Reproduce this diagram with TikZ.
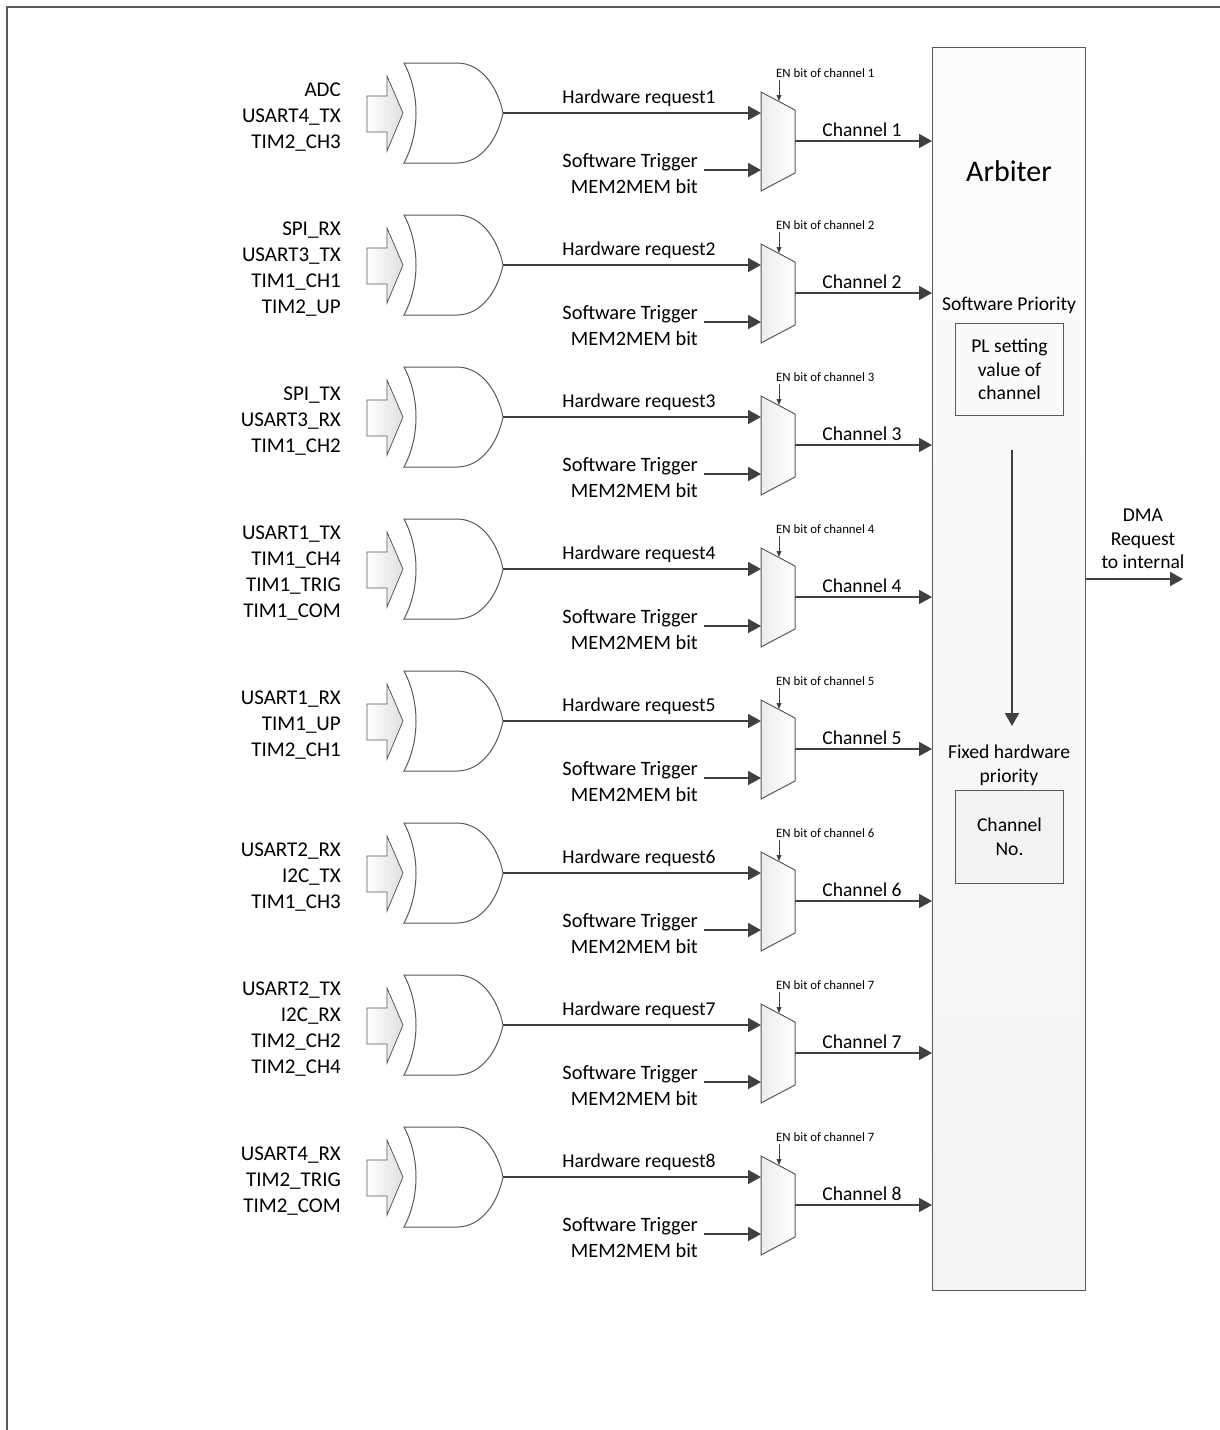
\documentclass[tikz,border=0pt]{standalone}
\usepackage{fontspec}
\setmainfont{Carlito}
\usetikzlibrary{arrows.meta}
\definecolor{linegray}{HTML}{404040}
\definecolor{edgegray}{HTML}{595959}
\tikzset{
  req/.style={draw=linegray, line width=1.8pt, -{Triangle[length=13pt,width=14pt]}},
  enarr/.style={draw=linegray, line width=0.8pt, -{Triangle[length=6pt,width=5pt]}},
  gateline/.style={draw=edgegray, line width=1pt, fill=white},
  lbl/.style={inner sep=0pt, font=\fontsize{19.6}{26}\selectfont},
  srclbl/.style={inner sep=0pt, align=right, font=\fontsize{21}{26}\selectfont},
  enlbl/.style={inner sep=0pt, font=\fontsize{12.8}{14}\selectfont},
}
\begin{document}
\begin{tikzpicture}[x=1pt,y=-1pt]
\useasboundingbox (0,0) rectangle (1220,1430);
\draw[edgegray, line width=2pt] (7,1430) -- (7,7) -- (1220,7);
\node[draw=edgegray, line width=1.2pt, top color=gray!2, bottom color=gray!9, minimum width=153pt, minimum height=1243pt, inner sep=0pt, anchor=north west] (arb) at (932,47) {};
\node[inner sep=0pt, font=\fontsize{30}{36}\selectfont] (arbtitle) at (1009,171) {Arbiter};
\node[lbl] (swprio) at (1009,305) {Software Priority};
\node[draw=edgegray, line width=1pt, fill=gray!4, minimum width=108pt, minimum height=92pt, inner sep=0pt, anchor=north west] (plbox) at (955,323) {};
\node[lbl, align=center, font=\fontsize{19.6}{23.5}\selectfont] (pltext) at (plbox.center) {PL setting\\value of\\channel};
\coordinate (prtop) at (1012,450);
\coordinate (prbot) at (1012,726);
\draw[req] (prtop) -- (prbot);
\node[lbl, align=center, font=\fontsize{19.6}{24}\selectfont] (fixlbl) at (1009,765) {Fixed hardware\\priority};
\node[draw=edgegray, line width=1pt, fill=gray!10, minimum width=108pt, minimum height=93pt, inner sep=0pt, anchor=north west] (chbox) at (955,790) {};
\node[lbl, align=center, font=\fontsize{19.6}{24}\selectfont] (chtext) at (chbox.center) {Channel\\No.};
\coordinate (dmaend) at (1183,579);
\draw[req] (arb.east |- dmaend) -- (dmaend);
\node[lbl, align=center, font=\fontsize{19.6}{23.5}\selectfont] (dmalbl) at (1143,539) {DMA\\Request\\to internal};
\foreach \k/\srcs/\en in {
  0/{ADC\\USART4\_TX\\TIM2\_CH3}/1,
  1/{SPI\_RX\\USART3\_TX\\TIM1\_CH1\\TIM2\_UP}/2,
  2/{SPI\_TX\\USART3\_RX\\TIM1\_CH2}/3,
  3/{USART1\_TX\\TIM1\_CH4\\TIM1\_TRIG\\TIM1\_COM}/4,
  4/{USART1\_RX\\TIM1\_UP\\TIM2\_CH1}/5,
  5/{USART2\_RX\\I2C\_TX\\TIM1\_CH3}/6,
  6/{USART2\_TX\\I2C\_RX\\TIM2\_CH2\\TIM2\_CH4}/7,
  7/{USART4\_RX\\TIM2\_TRIG\\TIM2\_COM}/7}{
  \pgfmathsetmacro\y{113+152*\k}
  \pgfmathtruncatemacro\n{\k+1}
  \node[srclbl, anchor=east] (src\n) at (341,\y+4) {\srcs};
  \draw[edgegray, line width=0.8pt, left color=white, right color=gray!25] (367,\y-17) -- (387,\y-17) -- (387,\y-37) -- (403,\y) -- (387,\y+38) -- (387,\y+19) -- (367,\y+19) -- cycle;
  \draw[gateline] (404,\y-50) .. controls (420,\y-20) and (420,\y+20) .. (404,\y+50) -- (457,\y+50) .. controls (482,\y+50) and (498,\y+25) .. (503,\y) .. controls (498,\y-25) and (482,\y-50) .. (457,\y-50) -- cycle;
  \draw[edgegray, line width=1pt, left color=gray!15, right color=white] (761,\y-21) -- (795,\y-3) -- (795,\y+60) -- (761,\y+78) -- cycle;
  \coordinate (or\n) at (503,\y);
  \coordinate (hw\n) at (761,\y);
  \coordinate (sw\n) at (704,\y+57);
  \coordinate (swin\n) at (761,\y+57);
  \coordinate (ch\n) at (795,\y+28);
  \coordinate (en\n) at (779,\y-33);
  \coordinate (enin\n) at (779,\y-12);
  \draw[req] (or\n) -- (hw\n);
  \draw[req] (sw\n) -- (swin\n);
  \draw[req] (ch\n) -- (arb.west |- ch\n);
  \draw[enarr] (en\n) -- (enin\n);
  \node[lbl, anchor=base] (hwlbl\n) at (639,\y-10) {Hardware request\n};
  \node[lbl, anchor=base] (chlbl\n) at (862,\y+23) {Channel \n};
  \node[lbl, align=right, anchor=east, font=\fontsize{20.4}{26}\selectfont] (swlbl\n) at (698,\y+61) {Software Trigger\\MEM2MEM bit};
  \node[enlbl, anchor=base west] (enlbl\n) at (776,\y-36) {EN bit of channel \en};
}
\end{tikzpicture}
\end{document}
